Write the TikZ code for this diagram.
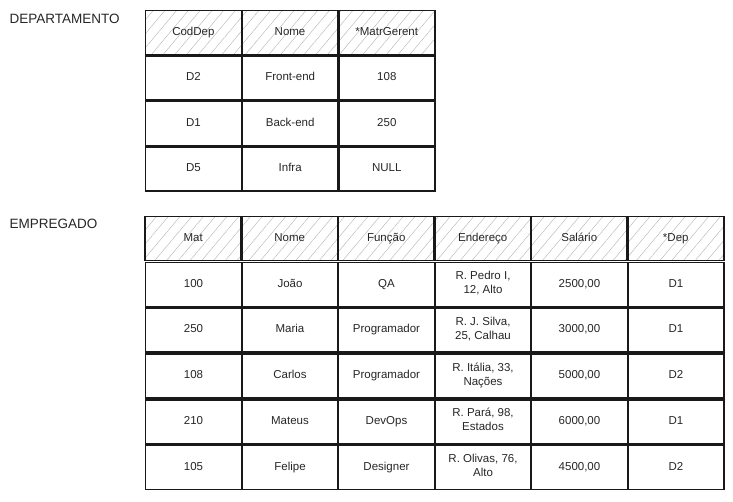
\documentclass[tikz,border=0pt]{standalone}
\usepackage{fontspec}
\setmainfont{Liberation Sans}
\usetikzlibrary{patterns.meta, positioning}

\tikzset{
  cell/.style={draw=black!90, line width=1.6pt, minimum width=96pt, minimum height=44pt,
    inner sep=1pt, align=center, text=black!85, font=\fontsize{11.5}{14}\selectfont,
    execute at begin node=\strut, execute at end node=\strut},
  head/.style={cell, pattern={Lines[angle=50,distance=9pt,line width=0.4pt]}, pattern color=black!30},
  title/.style={anchor=west, text=black!85, font=\fontsize{13.5}{15}\selectfont}
}

\begin{document}
\begin{tikzpicture}[x=1pt, y=-1pt]
\useasboundingbox (0,0) rectangle (733,501);

\node[title] (dep) at (6,19) {DEPARTAMENTO};
\node[title] (emp) at (6,224) {EMPREGADO};

% DEPARTAMENTO
\foreach \t [count=\c] in {CodDep, Nome, *MatrGerent}
  \node[head] (dh\c) at ({145+96.7*(\c-0.5)}, 32.5) {\t};

\foreach \a/\b/\m [count=\r] in {D2/Front-end/108, D1/Back-end/250, D5/Infra/NULL} {
  \node[cell] (d\r-1) at (193.5, {32.5+45.5*\r}) {\a};
  \node[cell] (d\r-2) at (290.2, {32.5+45.5*\r}) {\b};
  \node[cell] (d\r-3) at (386.8, {32.5+45.5*\r}) {\m};
}

% EMPREGADO
\foreach \t [count=\c] in {Mat, Nome, Função, Endereço, Salário, *Dep}
  \node[head] (eh\c) at ({145+96.5*(\c-0.5)}, 238.5) {\t};

\foreach \m/\n/\f/\e/\s/\d [count=\r] in {
  100/João/QA/{R. Pedro I,\\12, Alto}/{2500,00}/D1,
  250/Maria/Programador/{R. J. Silva,\\25, Calhau}/{3000,00}/D1,
  108/Carlos/Programador/{R. Itália, 33,\\Nações}/{5000,00}/D2,
  210/Mateus/DevOps/{R. Pará, 98,\\Estados}/{6000,00}/D1,
  105/Felipe/Designer/{R. Olivas, 76,\\Alto}/{4500,00}/D2} {
  \node[cell] (e\r-1) at (193.5, {238.5+45.8*\r}) {\m};
  \node[cell] (e\r-2) at (290.0, {238.5+45.8*\r}) {\n};
  \node[cell] (e\r-3) at (386.5, {238.5+45.8*\r}) {\f};
  \node[cell] (e\r-4) at (483.0, {238.5+45.8*\r}) {\e};
  \node[cell] (e\r-5) at (579.5, {238.5+45.8*\r}) {\s};
  \node[cell] (e\r-6) at (676.0, {238.5+45.8*\r}) {\d};
}

\end{tikzpicture}
\end{document}
